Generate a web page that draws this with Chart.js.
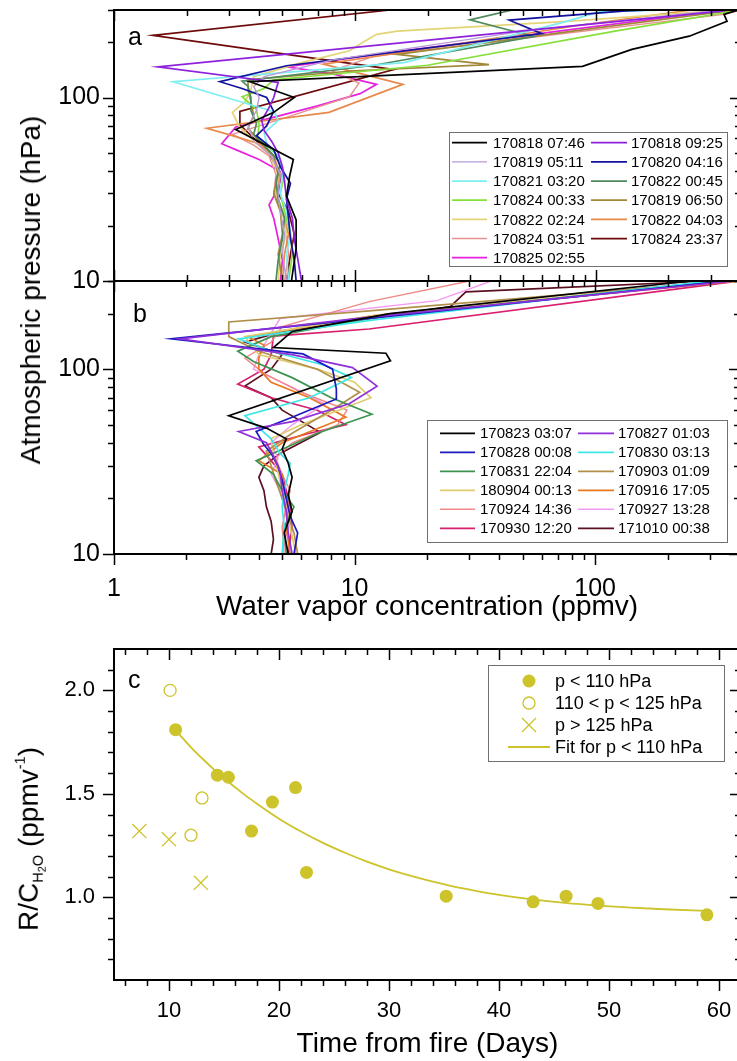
<!DOCTYPE html>
<html>
<head>
<meta charset="utf-8">
<script src="https://cdn.jsdelivr.net/npm/chart.js@4.4.1/dist/chart.umd.min.js"></script>
<style>
  html, body { margin: 0; padding: 0; background: #fff; overflow: hidden; }
  #wrap { position: relative; width: 737px; height: 1061px; overflow: hidden; }
  #wrap canvas { position: absolute; left: 0; }
  .ytitle { position: absolute; white-space: nowrap; color: #000; font-size: 28px;
            font-family: 'Liberation Sans', Arial, sans-serif;
            transform: translate(-50%, -50%) rotate(-90deg); }
  .ytitle sub { font-size: 0.52em; vertical-align: -0.35em; }
  .ytitle sub sub { font-size: 0.75em; vertical-align: -0.3em; }
  .ytitle sup { font-size: 0.52em; vertical-align: 0.9em; }
</style>
</head>
<body>
<div id="wrap">
  <canvas id="chartA" width="760" height="331" style="top:-20px"></canvas>
  <canvas id="chartB" width="760" height="370" style="top:251px"></canvas>
  <canvas id="chartC" width="760" height="445" style="top:616px"></canvas>
  <div class="ytitle" style="left:31px; top:290px">Atmospheric pressure (hPa)</div>
  <div class="ytitle" style="left:30px; top:839px">R/C<sub>H<sub>2</sub>O</sub> (ppmv<sup>-1</sup>)</div>
</div>
<script>
'use strict';
var FONT = "'Liberation Sans', Arial, sans-serif";

// ---- panel a : profiles, [pressure hPa, water vapour ppmv]
var a0746 = [[10,5.45],[15,5.7],[21.5,5.7],[29,5.2],[37,5.35],[46,5.55],[67,3.2],[83,4.6],[100,5.6],[122,3.66],[148,88],[183,141],[216,244],[260,350],[284,340],[300,390]];
var a0925 = [[10,6.0],[13,5.8],[17,5.6],[22,5.5],[28,5.2],[35,5.1],[42,5.0],[50,4.8],[58,4.5],[66,4.2],[75,4.1],[88,4.4],[100,4.6],[121,4.8],[147,1.52],[296,333],[300,350]];
var a0511 = [[10,5.2],[14,5.0],[18,5.1],[24,4.9],[30,4.8],[38,4.9],[48,4.5],[58,3.8],[70,3.6],[85,3.9],[100,4.0],[115,3.8],[130,4.2],[160,8],[230,50],[300,330]];
var a0416 = [[10,5.7],[13,5.6],[17,5.4],[22,5.3],[28,5.2],[34,5.4],[42,4.9],[52,4.6],[62,3.9],[70,4.3],[84,4.6],[100,4.3],[112,3.4],[122,2.75],[149,5.2],[223,59.6],[264,43.7],[297,133],[300,170]];
var a0320 = [[10,5.3],[14,5.2],[18,5.4],[24,5.2],[30,4.9],[38,5.0],[48,4.8],[56,4.3],[64,4.2],[75,4.8],[83,4.65],[86,4.3],[122,1.76],[155,16],[257,73],[293,103],[300,200]];
var a0045 = [[10,4.7],[13,4.8],[17,5.0],[22,5.1],[28,4.8],[35,4.7],[44,4.9],[55,4.2],[63,3.8],[72,3.9],[85,3.7],[100,3.7],[115,3.6],[123,3.4],[150,12],[215,55],[265,30],[300,45]];
var a0033 = [[10,5.3],[14,5.5],[18,5.4],[24,5.1],[30,4.9],[38,5.1],[48,4.8],[55,4.3],[61,3.95],[72,4.0],[86,3.9],[101,3.4],[112,4.2],[125,4.6],[150,20],[230,120],[300,400]];
var a0650 = [[10,5.0],[14,4.8],[18,5.0],[24,4.9],[30,4.6],[38,4.8],[48,4.6],[58,4.0],[68,3.6],[80,3.8],[95,3.7],[110,3.6],[125,3.6],[140,10],[151,36],[172,15],[230,80],[300,380]];
var a0224 = [[10,4.8],[14,4.9],[18,5.2],[24,5.0],[30,4.7],[38,4.8],[48,4.5],[58,3.8],[70,3.3],[83,3.1],[95,3.5],[110,3.7],[130,3.8],[155,6],[180,9.5],[200,10.8],[221,12.3],[230,15],[259,73],[300,350]];
var a0403 = [[10,5.0],[14,5.1],[18,5.3],[24,5.0],[30,4.7],[38,4.9],[48,4.6],[56,4.0],[62,3.1],[68,2.43],[83,7.8],[118,15.8],[152,7.4],[185,20],[250,90],[300,250]];
var a0351 = [[10,5.1],[14,5.3],[18,5.2],[24,5.0],[30,4.6],[38,4.7],[48,4.4],[55,3.8],[63,3.1],[80,5.5],[101,9.5],[120,10.4],[140,8],[168,12],[284,340],[300,400]];
var a2337 = [[10,5.2],[14,5.4],[18,5.6],[24,5.3],[30,4.8],[38,4.9],[50,4.4],[60,3.8],[71,3.33],[84,3.33],[142,14.5],[218,1.45],[300,14]];
var a0255 = [[10,4.9],[13,5.0],[17,4.8],[22,4.6],[26,4.4],[32,4.8],[39,5.0],[46,4.0],[52,3.2],[56,2.8],[69,3.2],[90,7],[105,10.5],[118,12.3],[135,8],[147,5.2],[178,15],[296,315]];

var labelsA = ['170818 07:46', '170818 09:25', '170819 05:11', '170820 04:16', '170821 03:20', '170822 00:45', '170824 00:33',
               '170819 06:50', '170822 02:24', '170822 04:03', '170824 03:51', '170824 23:37', '170825 02:55'];
var colorsA = ['#000000', '#8e22dc', '#b89ad8', '#12129e', '#7deef2', '#4e8a5c', '#86e03a',
               '#a08838', '#e4d478', '#e8884a', '#e89090', '#6e0a0a', '#e622e0'];
var profilesA = [a0746, a0925, a0511, a0416, a0320, a0045, a0033, a0650, a0224, a0403, a0351, a2337, a0255];

// ---- panel b
var b0307 = [[10,5.3],[13,5.1],[17,5.5],[21,5.3],[26,5.5],[31,5.3],[37,5.0],[42,5.2],[48,4.3],[56,3.0],[111,14.1],[122,13.5],[131,4.6],[160,5.5],[200,14],[300,250]];
var b0103 = [[10,5.5],[13,5.3],[17,5.2],[22,5.0],[28,4.9],[34,4.6],[40,4.3],[46,3.3],[52,5.5],[65,9.5],[81,12.4],[102,9.8],[120,5.5],[146,1.88],[190,11],[300,380]];
var b0008 = [[10,5.6],[13,5.8],[16,5.4],[20,5.2],[25,5.0],[30,4.8],[35,4.5],[39,4.2],[46,3.9],[55,5.5],[69,8.4],[78,8.4],[100,8.1],[121,6.1],[146,1.73],[185,10],[300,350]];
var b0313 = [[10,5.0],[14,5.1],[18,5.0],[22,5.1],[27,5.3],[31,5.4],[35,4.9],[42,4.5],[56,3.5],[70,6.5],[90,9.7],[105,7.5],[125,4.5],[146,3.3],[185,12],[300,300]];
var b2204 = [[10,5.2],[14,5.1],[18,5.6],[22,5.0],[27,4.6],[32,3.9],[36,4.8],[45,7],[57,11.8],[70,8],[90,5.5],[110,3.8],[125,3.27],[150,4.5],[190,12],[300,330]];
var b0109 = [[10,5.8],[13,5.6],[16,5.3],[20,5.0],[25,4.7],[30,4.5],[36,4.3],[45,5.5],[60,8],[75,10.5],[100,7],[125,4.0],[150,3.0],[180,3.0],[207,11.5],[300,360]];
var b0013 = [[10,5.7],[14,5.4],[18,5.2],[22,5.0],[28,4.8],[34,4.6],[42,4.5],[50,6],[70,11.7],[85,10],[100,7],[120,4],[150,3.5],[195,12],[300,350]];
var b1705 = [[10,5.4],[14,5.2],[18,5.3],[22,5.1],[27,5.0],[32,4.0],[40,5.0],[55,9.2],[70,6.5],[85,4.5],[100,4.0],[115,4.0],[135,4.2],[150,3.6],[195,12],[300,400]];
var b1436 = [[10,5.1],[14,5.0],[18,5.2],[22,5.4],[27,5.0],[33,4.7],[40,5.5],[50,8.5],[60,9.3],[75,6],[95,4.2],[115,3.5],[140,4.5],[170,5],[232,11.5],[300,30]];
var b1328 = [[10,5.0],[14,5.3],[18,5.1],[22,4.9],[27,4.5],[33,4.8],[40,4.5],[50,5.5],[65,7.5],[80,5.5],[100,3.8],[120,4.0],[150,4.4],[188,4.9],[235,22],[300,37]];
var b1220 = [[10,5.3],[14,5.5],[18,5.4],[22,5.2],[27,5.0],[32,4.5],[38,4.0],[45,6.5],[50,9.2],[60,7],[70,4.5],[83,3.27],[100,4.2],[120,4.5],[151,4.6],[165,11.5],[297,370]];
var b0038 = [[10,4.5],[12,4.6],[15,4.5],[18,4.3],[22,4.2],[26,4.0],[30,4.2],[35,4.9],[45.5,7.2],[60,5],[70,4.5],[81,3.5],[100,4.5],[120,5.0],[140,3.5],[160,5],[218,25],[262,29],[300,300]];

var labelsB = ['170823 03:07', '170827 01:03', '170828 00:08', '170830 03:13', '170831 22:04', '170903 01:09',
               '180904 00:13', '170916 17:05', '170924 14:36', '170927 13:28', '170930 12:20', '171010 00:38'];
var colorsB = ['#000000', '#9030d8', '#1a1ac0', '#3ee6e6', '#3c9450', '#b0904a',
               '#e0cc70', '#e87820', '#f08888', '#f49af0', '#d8206e', '#5a1020'];
var profilesB = [b0307, b0103, b0008, b0313, b2204, b0109, b0013, b1705, b1436, b1328, b1220, b0038];

// ---- panel c
var filledDays  = [10.6, 14.4, 15.4, 17.5, 19.4, 21.5, 22.5, 35.2, 43.1, 46.1, 49.0, 58.9];
var filledRatio = [1.81, 1.59, 1.58, 1.32, 1.46, 1.53, 1.12, 1.005, 0.978, 1.005, 0.97, 0.915];
var openDays  = [10.1, 13.0, 12.0];
var openRatio = [2.0, 1.48, 1.30];
var crossDays  = [7.3, 10.0, 12.9];
var crossRatio = [1.32, 1.28, 1.07];
var fitDays  = [10.9, 12, 13, 14, 15, 16, 17, 18, 20, 22, 24, 26, 28, 30, 32, 34, 36, 38, 40, 43, 46, 49, 52, 55, 58.9];
var fitRatio = [1.79, 1.725, 1.672, 1.622, 1.575, 1.532, 1.49, 1.452, 1.38, 1.318, 1.263, 1.215, 1.172, 1.135, 1.103, 1.075, 1.05, 1.03, 1.012, 0.99, 0.973, 0.96, 0.95, 0.942, 0.934];
var labelsC = ['p < 110 hPa', '110 < p < 125 hPa', 'p > 125 hPa', 'Fit for p < 110 hPa'];
var OLIVE = '#cdc32a';

// ---- tick positions
var logTicksX = [1,2,3,4,5,6,7,8,9,10,20,30,40,50,60,70,80,90,100,200,300,400];
var logTicksY = [10,20,30,40,50,60,70,80,90,100,200,300];
var dayTicks = [6,8,10,12,14,16,18,20,22,24,26,28,30,32,34,36,38,40,42,44,46,48,50,52,54,56,58,60,62];
var ratioTicks = [0.7,0.8,0.9,1.0,1.1,1.2,1.3,1.4,1.5,1.6,1.7,1.8,1.9,2.0,2.1];

Chart.defaults.font.family = FONT;
Chart.defaults.color = '#000';

function isPow10(v) { var l = Math.log10(v); return Math.abs(l - Math.round(l)) < 1e-6; }
function isMajor(kind, axis, v) {
    if (kind === 'log') { return isPow10(v); }
    if (axis === 'x') { return Math.round(v) % 10 === 0; }
    return Math.round(v * 10) % 5 === 0;
}
function setTicks(list) {
    return function (scale) { scale.ticks = list.map(function (v) { return { value: v }; }); };
}

// frame with inward/outward tick marks drawn from the scales
var framePlugin = {
    id: 'frame',
    afterDatasetsDraw: function (chart, args, o) {
        var ctx = chart.ctx, a = chart.chartArea, xs = chart.scales.x, ys = chart.scales.y;
        ctx.save();
        ctx.strokeStyle = '#000';
        ctx.lineWidth = 1.5;
        ctx.beginPath();
        xs.ticks.forEach(function (t) {
            var px = Math.round(xs.getPixelForValue(t.value)) + 0.5;
            var len = isMajor(o.kind, 'x', t.value) ? 11 : 6;
            ctx.moveTo(px, a.top); ctx.lineTo(px, a.top + len);
            ctx.moveTo(px, a.bottom); ctx.lineTo(px, o.bottomIn ? a.bottom - len : a.bottom + len);
        });
        ys.ticks.forEach(function (t) {
            var py = Math.round(ys.getPixelForValue(t.value)) + 0.5;
            var len = isMajor(o.kind, 'y', t.value) ? 11 : 6;
            ctx.moveTo(a.left, py); ctx.lineTo(a.left - len, py);
            ctx.moveTo(a.right, py); ctx.lineTo(a.right - len, py);
        });
        ctx.stroke();
        ctx.lineWidth = 2;
        ctx.strokeRect(a.left, a.top, a.right - a.left, a.bottom - a.top);
        if (o.letter) {
            ctx.fillStyle = '#000';
            ctx.font = '25px ' + FONT;
            ctx.textBaseline = 'alphabetic';
            ctx.fillText(o.letter, o.letterX, o.letterY - o.pageTop);
        }
        ctx.restore();
    }
};

// two-column legend of profile lines
var lineLegend = {
    id: 'lineLegend',
    afterDatasetsDraw: function (chart, args, o) {
        if (!o.box) { return; }
        var ctx = chart.ctx, dy = -o.pageTop, b = o.box;
        ctx.save();
        ctx.fillStyle = '#fff';
        ctx.fillRect(b[0], b[1] + dy, b[2] - b[0], b[3] - b[1]);
        ctx.strokeStyle = '#707070';
        ctx.lineWidth = 1;
        ctx.strokeRect(b[0] + 0.5, b[1] + dy + 0.5, b[2] - b[0], b[3] - b[1]);
        ctx.font = '15px ' + FONT;
        ctx.textBaseline = 'middle';
        chart.data.datasets.forEach(function (ds, i) {
            var c = o.cols[i % 2], y = o.rowTop + Math.floor(i / 2) * o.rowStep + dy;
            ctx.strokeStyle = ds.borderColor;
            ctx.lineWidth = ds.borderWidth;
            ctx.beginPath(); ctx.moveTo(c[0], y); ctx.lineTo(c[1], y); ctx.stroke();
            ctx.fillStyle = '#000';
            ctx.fillText(ds.label, c[2], y + 1);
        });
        ctx.restore();
    }
};

// symbol legend for panel c
var symbolLegend = {
    id: 'symbolLegend',
    afterDatasetsDraw: function (chart, args, o) {
        if (!o.box) { return; }
        var ctx = chart.ctx, dy = -o.pageTop, b = o.box, cx = o.symX;
        ctx.save();
        ctx.fillStyle = '#fff';
        ctx.fillRect(b[0], b[1] + dy, b[2] - b[0], b[3] - b[1]);
        ctx.strokeStyle = '#707070';
        ctx.lineWidth = 1;
        ctx.strokeRect(b[0] + 0.5, b[1] + dy + 0.5, b[2] - b[0], b[3] - b[1]);
        ctx.font = '18px ' + FONT;
        ctx.textBaseline = 'middle';
        chart.data.datasets.forEach(function (ds, i) {
            var y = o.rowTop + i * o.rowStep + dy;
            ctx.strokeStyle = OLIVE;
            ctx.fillStyle = OLIVE;
            ctx.lineWidth = 1.3;
            ctx.beginPath();
            if (i === 0) { ctx.arc(cx, y, 6.5, 0, 2 * Math.PI); ctx.fill(); }
            else if (i === 1) { ctx.arc(cx, y, 6, 0, 2 * Math.PI); ctx.stroke(); }
            else if (i === 2) { ctx.moveTo(cx - 7, y - 7); ctx.lineTo(cx + 7, y + 7); ctx.moveTo(cx + 7, y - 7); ctx.lineTo(cx - 7, y + 7); ctx.stroke(); }
            else { ctx.lineWidth = 1.8; ctx.moveTo(o.line[0], y); ctx.lineTo(o.line[1], y); ctx.stroke(); }
            ctx.fillStyle = '#000';
            ctx.fillText(ds.label, o.textX, y + 1);
        });
        ctx.restore();
    }
};

function profileDatasets(labels, colors, profiles) {
    return profiles.map(function (pts, i) {
        var thin = colors[i] === '#b89ad8' || colors[i] === '#e89090' || colors[i] === '#f08888' || colors[i] === '#f49af0';
        return {
            label: labels[i],
            borderColor: colors[i],
            backgroundColor: colors[i],
            borderWidth: thin ? 1.4 : 1.7,
            showLine: true,
            pointRadius: 0,
            tension: 0,
            fill: false,
            data: pts.map(function (d) { return { x: d[1], y: d[0] }; })
        };
    });
}

function profileChart(id, labels, colors, profiles, cfg) {
    return new Chart(document.getElementById(id), {
        type: 'scatter',
        data: { datasets: profileDatasets(labels, colors, profiles) },
        options: {
            responsive: false,
            animation: false,
            events: [],
            layout: { padding: { top: cfg.padTop, right: 19, bottom: 0, left: 0 } },
            scales: {
                x: {
                    type: 'logarithmic', min: 1, max: 400,
                    grid: { display: false, drawTicks: false }, border: { display: false },
                    afterBuildTicks: setTicks(logTicksX),
                    afterFit: function (s) { s.height = cfg.xHeight; },
                    ticks: {
                        display: cfg.showX, autoSkip: false, maxRotation: 0, minRotation: 0, padding: 20,
                        font: { size: 25 },
                        callback: function (v) { return (v === 1 || v === 10 || v === 100) ? String(v) : ''; }
                    },
                    title: { display: cfg.showX, text: 'Water vapor concentration (ppmv)', font: { size: 28, lineHeight: 1 }, padding: 0 }
                },
                y: {
                    type: 'logarithmic', min: 10, max: 300,
                    grid: { display: false, drawTicks: false }, border: { display: false },
                    afterBuildTicks: setTicks(logTicksY),
                    afterFit: function (s) { s.width = 114; },
                    ticks: {
                        autoSkip: false, padding: 14, font: { size: 25 },
                        callback: function (v) { return (v === 10 || v === 100) ? String(v) : ''; }
                    }
                }
            },
            plugins: {
                legend: { display: false },
                tooltip: { enabled: false },
                frame: { kind: 'log', bottomIn: cfg.bottomIn, letter: cfg.letter, letterX: cfg.letterX, letterY: cfg.letterY, pageTop: cfg.pageTop },
                lineLegend: { box: cfg.box, cols: cfg.cols, rowTop: cfg.rowTop, rowStep: cfg.rowStep, pageTop: cfg.pageTop }
            }
        },
        plugins: [framePlugin, lineLegend]
    });
}

profileChart('chartA', labelsA, colorsA, profilesA, {
    padTop: 30, xHeight: 30, showX: false, bottomIn: true, pageTop: -20,
    letter: 'a', letterX: 128, letterY: 45,
    box: [449, 132, 727, 266], cols: [[452, 487, 493], [591, 627, 631]], rowTop: 142.7, rowStep: 19.17
});

profileChart('chartB', labelsB, colorsB, profilesB, {
    padTop: 30, xHeight: 67, showX: true, bottomIn: false, pageTop: 251,
    letter: 'b', letterX: 133, letterY: 322,
    box: [427, 420, 727, 542], cols: [[440, 475, 480], [578, 614, 618]], rowTop: 433.3, rowStep: 19
});

function pairs(xs, ys) { return xs.map(function (x, i) { return { x: x, y: ys[i] }; }); }

new Chart(document.getElementById('chartC'), {
    type: 'scatter',
    data: {
        datasets: [
            { label: labelsC[0], data: pairs(filledDays, filledRatio), pointStyle: 'circle', pointRadius: 6.5,
              pointBackgroundColor: OLIVE, pointBorderColor: OLIVE, pointBorderWidth: 0, backgroundColor: OLIVE, borderColor: OLIVE },
            { label: labelsC[1], data: pairs(openDays, openRatio), pointStyle: 'circle', pointRadius: 6,
              pointBackgroundColor: 'rgba(255,255,255,0)', pointBorderColor: OLIVE, pointBorderWidth: 1.3, borderColor: OLIVE },
            { label: labelsC[2], data: pairs(crossDays, crossRatio), pointStyle: 'crossRot', pointRadius: 10,
              pointBorderColor: OLIVE, pointBorderWidth: 1.3, borderColor: OLIVE },
            { label: labelsC[3], data: pairs(fitDays, fitRatio), showLine: true, pointRadius: 0, borderColor: OLIVE,
              borderWidth: 1.8, cubicInterpolationMode: 'monotone', fill: false }
        ]
    },
    options: {
        responsive: false,
        animation: false,
        events: [],
        layout: { padding: { top: 33, right: 19, bottom: 3, left: 0 } },
        scales: {
            x: {
                type: 'linear', min: 5, max: 62,
                grid: { display: false, drawTicks: false }, border: { display: false },
                afterBuildTicks: setTicks(dayTicks),
                afterFit: function (s) { s.height = 78; },
                ticks: {
                    autoSkip: false, maxRotation: 0, minRotation: 0, padding: 18, font: { size: 22 },
                    callback: function (v) { return Math.round(v) % 10 === 0 ? String(Math.round(v)) : ''; }
                },
                title: { display: true, text: 'Time from fire (Days)', font: { size: 28, lineHeight: 1 }, padding: 0 }
            },
            y: {
                type: 'linear', min: 0.6, max: 2.2,
                grid: { display: false, drawTicks: false }, border: { display: false },
                afterBuildTicks: setTicks(ratioTicks),
                afterFit: function (s) { s.width = 114; },
                ticks: {
                    autoSkip: false, padding: 19, font: { size: 22 },
                    callback: function (v) { return Math.round(v * 10) % 5 === 0 ? v.toFixed(1) : ''; }
                }
            }
        },
        plugins: {
            legend: { display: false },
            tooltip: { enabled: false },
            frame: { kind: 'lin', bottomIn: false, letter: 'c', letterX: 128, letterY: 688, pageTop: 616 },
            symbolLegend: { box: [488, 665, 724, 761], symX: 529, line: [508, 550], textX: 555, rowTop: 681, rowStep: 22, pageTop: 616 }
        }
    },
    plugins: [framePlugin, symbolLegend]
});
</script>
</body>
</html>
